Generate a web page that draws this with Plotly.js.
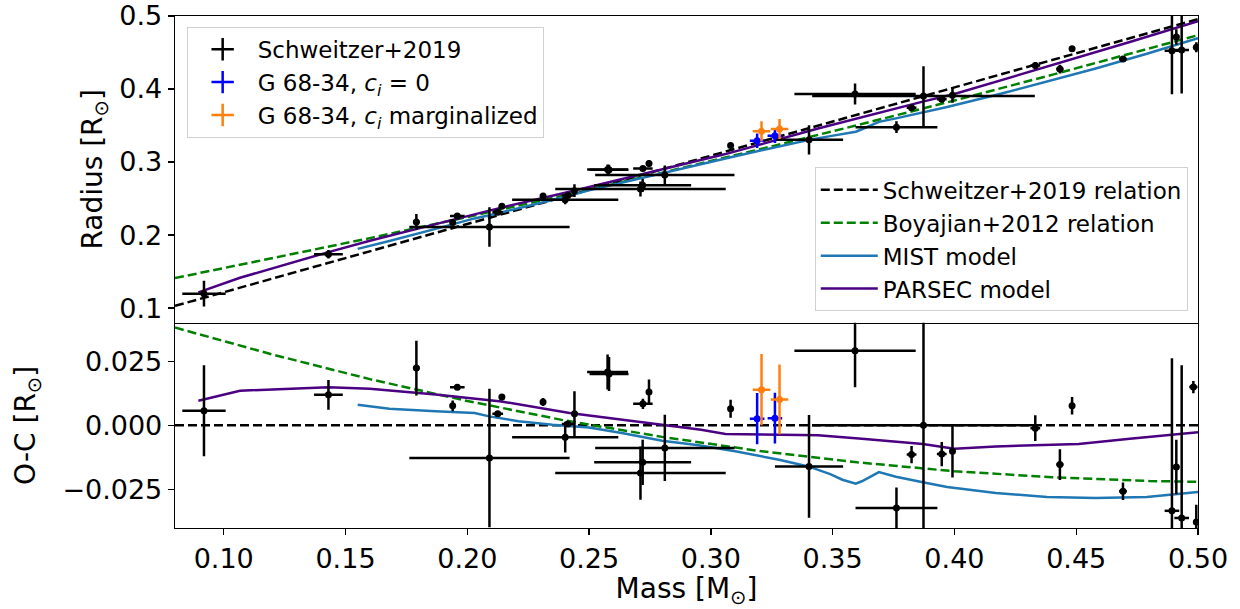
<!DOCTYPE html>
<html>
<head>
<meta charset="utf-8">
<script src="https://cdn.plot.ly/plotly-3.0.1.min.js"></script>
<style>
html, body { margin: 0; padding: 0; background: #fff; }
#chart { width: 1240px; height: 609px; }
</style>
</head>
<body>
<div id="chart"></div>
<script>
// ---- Schweitzer+2019 sample ----
const mass = [0.0919, 0.1430, 0.1791, 0.1959, 0.1940, 0.2091, 0.2142, 0.2125, 0.2311, 0.2440, 0.2413, 0.2402, 0.2576, 0.2582, 0.2746, 0.2721, 0.2720, 0.2711, 0.2811, 0.3081, 0.3403, 0.3592, 0.3873, 0.3762, 0.3824, 0.3948, 0.3992, 0.4332, 0.4483, 0.4433, 0.4692, 0.4893, 0.4911, 0.4933, 0.4981, 0.4993];
const massErr = [0.0089, 0.0059, 0.0014, 0.0030, 0.0007, 0.0329, 0.0007, 0.0022, 0.0007, 0.0007, 0.0025, 0.0218, 0.0084, 0.0080, 0.0008, 0.0040, 0.0199, 0.0350, 0.0286, 0.0010, 0.0140, 0.0249, 0.0457, 0.0168, 0.0020, 0.0020, 0.0010, 0.0020, 0.0008, 0.0015, 0.0016, 0.0030, 0.0012, 0.0030, 0.0017, 0.0010];
const radius = [0.1198, 0.1738, 0.2180, 0.2262, 0.2172, 0.2110, 0.2395, 0.2314, 0.2534, 0.2608, 0.2543, 0.2482, 0.2899, 0.2896, 0.2980, 0.2910, 0.2681, 0.2631, 0.2822, 0.3228, 0.3304, 0.3931, 0.3903, 0.3477, 0.3743, 0.3861, 0.3914, 0.4321, 0.4550, 0.4274, 0.4412, 0.4524, 0.4712, 0.4533, 0.5088, 0.4573];
const radiusErr = [0.0177, 0.0058, 0.0107, 0.0006, 0.0021, 0.0270, 0.0012, 0.0008, 0.0016, 0.0088, 0.0008, 0.0060, 0.0068, 0.0066, 0.0049, 0.0020, 0.0088, 0.0104, 0.0129, 0.0035, 0.0200, 0.0143, 0.0410, 0.0080, 0.0034, 0.0047, 0.0102, 0.0050, 0.0034, 0.0060, 0.0034, 0.0594, 0.0106, 0.0595, 0.0024, 0.0068];
const residual = [0.0057, 0.0119, 0.0223, 0.0148, 0.0076, -0.0127, 0.0110, 0.0045, 0.0091, 0.0045, 0.0005, -0.0046, 0.0208, 0.0200, 0.0130, 0.0084, -0.0144, -0.0186, -0.0088, 0.0065, -0.0160, 0.0291, 0.0000, -0.0322, -0.0114, -0.0112, -0.0101, -0.0011, 0.0076, -0.0153, -0.0257, -0.0333, -0.0162, -0.0361, 0.0149, -0.0377];

// ---- G 68-34, c_i = 0 ----
const g0Mass = [0.3190, 0.3263];
const g0MassErr = [0.0030, 0.0030];
const g0Radius = [0.3291, 0.3361];
const g0RadiusErr = [0.0100, 0.0099];
const g0Residual = [0.0026, 0.0028];

// ---- G 68-34, c_i marginalized ----
const gmMass = [0.3208, 0.3282];
const gmMassErr = [0.0036, 0.0036];
const gmRadius = [0.3420, 0.3452];
const gmRadiusErr = [0.0139, 0.0136];
const gmResidual = [0.0139, 0.0101];

// ---- Schweitzer+2019 relation ----
const relMass = [0.08, 0.50];
const relRadius = [0.1030, 0.4957];
const relResidual = [0.0, 0.0];

// ---- Boyajian+2012 relation ----
const boyMass = [0.08, 0.12, 0.16, 0.20, 0.24, 0.28, 0.32, 0.36, 0.40, 0.44, 0.48, 0.50];
const boyRadius = [0.1411, 0.1680, 0.1958, 0.2247, 0.2545, 0.2855, 0.3174, 0.3504, 0.3843, 0.4194, 0.4553, 0.4737];
const boyResidual = [0.0381, 0.0276, 0.0180, 0.0095, 0.0019, -0.0045, -0.0100, -0.0144, -0.0179, -0.0202, -0.0217, -0.0220];

// ---- MIST model ----
const mistMass = [0.155, 0.168, 0.187, 0.203, 0.209, 0.221, 0.235, 0.250, 0.264, 0.280, 0.295, 0.310, 0.328, 0.340, 0.349, 0.354, 0.3595, 0.362, 0.369, 0.376, 0.387, 0.397, 0.417, 0.438, 0.458, 0.479, 0.500];
const mistRadius = [0.1811, 0.1918, 0.2085, 0.2228, 0.2271, 0.2364, 0.2481, 0.2612, 0.2719, 0.2840, 0.2962, 0.3080, 0.3215, 0.3301, 0.3355, 0.3380, 0.3416, 0.3449, 0.3550, 0.3598, 0.3678, 0.3754, 0.3917, 0.4098, 0.4281, 0.4482, 0.4697];
const mistResidual = [0.0080, 0.0065, 0.0055, 0.0048, 0.0035, 0.0016, 0.0002, -0.0008, -0.0031, -0.0060, -0.0078, -0.0101, -0.0134, -0.0160, -0.0190, -0.0212, -0.0227, -0.0218, -0.0182, -0.0200, -0.0222, -0.0240, -0.0264, -0.0279, -0.0283, -0.0279, -0.0260];

// ---- PARSEC model ----
const parsecMass = [0.0896, 0.1067, 0.143, 0.160, 0.187, 0.214, 0.242, 0.269, 0.296, 0.306, 0.344, 0.362, 0.387, 0.400, 0.417, 0.451, 0.472, 0.500];
const parsecRadius = [0.1216, 0.1415, 0.1767, 0.1921, 0.2150, 0.2376, 0.2593, 0.2813, 0.3033, 0.3109, 0.3459, 0.3615, 0.3827, 0.3931, 0.4099, 0.4426, 0.4643, 0.4930];
const parsecResidual = [0.0096, 0.0135, 0.0148, 0.0143, 0.0120, 0.0093, 0.0048, 0.0016, -0.0017, -0.0034, -0.0039, -0.0052, -0.0073, -0.0091, -0.0082, -0.0073, -0.0052, -0.0027];

// ---- ticks ----
const xTicks = [0.10, 0.15, 0.20, 0.25, 0.30, 0.35, 0.40, 0.45, 0.50];
const yTicksTop = [0.1, 0.2, 0.3, 0.4, 0.5];
const yTicksBottom = [-0.025, 0.0, 0.025];

const FONT = 'DejaVu Sans, Arial, sans-serif';
const LW = 2.5;
const MISTC = '#1f77b4', PARC = '#4b0082', GREEN = '#008000';

function lineTrace(x, y, color, dash, name, legend, show, xa, ya, grp) {
  return {x: x, y: y, mode: 'lines', type: 'scatter', name: name,
    line: {color: color, width: LW, dash: dash},
    showlegend: show, legend: legend, legendgroup: grp, xaxis: xa, yaxis: ya, hoverinfo: 'skip'};
}
function errTrace(x, xe, y, ye, color, xa, ya) {
  return {x: x, y: y, mode: 'markers', type: 'scatter', showlegend: false,
    marker: {color: color, size: 7},
    error_x: {type: 'data', array: xe, visible: true, color: color, thickness: LW, width: 0},
    error_y: {type: 'data', array: ye, visible: true, color: color, thickness: LW, width: 0},
    xaxis: xa, yaxis: ya, hoverinfo: 'skip'};
}
function legendCross(color, name, grp) {
  return {x: [null], y: [null], mode: 'markers', type: 'scatter', name: name,
    marker: {symbol: 'cross-thin-open', size: 16, color: color, line: {color: color, width: LW}},
    showlegend: true, legend: 'legend', legendgroup: grp, xaxis: 'x2', yaxis: 'y'};
}

const data = [
  lineTrace(relMass, relRadius, '#000000', '9px,4px', 'Schweitzer+2019 relation', 'legend2', true, 'x2', 'y', 'g4'),
  lineTrace(boyMass, boyRadius, GREEN, '9px,4px', 'Boyajian+2012 relation', 'legend2', true, 'x2', 'y', 'g5'),
  lineTrace(mistMass, mistRadius, MISTC, 'solid', 'MIST model', 'legend2', true, 'x2', 'y', 'g6'),
  lineTrace(parsecMass, parsecRadius, PARC, 'solid', 'PARSEC model', 'legend2', true, 'x2', 'y', 'g7'),
  lineTrace(relMass, relResidual, '#000000', '9px,4px', 'rel', 'legend2', false, 'x', 'y2', 'g4'),
  lineTrace(boyMass, boyResidual, GREEN, '9px,4px', 'boy', 'legend2', false, 'x', 'y2', 'g5'),
  lineTrace(mistMass, mistResidual, MISTC, 'solid', 'mist', 'legend2', false, 'x', 'y2', 'g6'),
  lineTrace(parsecMass, parsecResidual, PARC, 'solid', 'parsec', 'legend2', false, 'x', 'y2', 'g7'),
  errTrace(mass, massErr, radius, radiusErr, '#000000', 'x2', 'y'),
  errTrace(g0Mass, g0MassErr, g0Radius, g0RadiusErr, '#0000ff', 'x2', 'y'),
  errTrace(gmMass, gmMassErr, gmRadius, gmRadiusErr, '#ff7f0e', 'x2', 'y'),
  errTrace(mass, massErr, residual, radiusErr, '#000000', 'x', 'y2'),
  errTrace(g0Mass, g0MassErr, g0Residual, g0RadiusErr, '#0000ff', 'x', 'y2'),
  errTrace(gmMass, gmMassErr, gmResidual, gmRadiusErr, '#ff7f0e', 'x', 'y2'),
  legendCross('#000000', 'Schweitzer+2019', 'g1'),
  legendCross('#0000ff', 'G 68-34, <i>c</i><sub><i>i</i></sub> = 0', 'g2'),
  legendCross('#ff7f0e', 'G 68-34, <i>c</i><sub><i>i</i></sub> marginalized', 'g3')
];

const axisCommon = {
  showline: true, linecolor: '#000', linewidth: 1.3, mirror: true,
  showgrid: false, zeroline: false,
  ticks: 'outside', ticklen: 6, tickwidth: 1.3, tickcolor: '#000',
  tickfont: {family: FONT, size: 27, color: '#000'}
};

const layout = {
  width: 1240, height: 609,
  margin: {l: 175, r: 42, t: 16, b: 81},
  paper_bgcolor: '#fff', plot_bgcolor: '#fff',
  font: {family: FONT, color: '#000'},
  xaxis: Object.assign({}, axisCommon, {
    domain: [0, 1], anchor: 'y2', range: [0.08, 0.50], mirror: false,
    tickvals: xTicks, tickformat: '.2f',
    title: {text: 'Mass [M<sub>⊙</sub>]', font: {family: FONT, size: 28, color: '#000'}, standoff: 2}
  }),
  xaxis2: Object.assign({}, axisCommon, {
    domain: [0, 1], anchor: 'y', matches: 'x', range: [0.08, 0.50],
    showticklabels: false, ticks: ''
  }),
  yaxis: Object.assign({}, axisCommon, {
    domain: [0.401, 1], anchor: 'x2', range: [0.08, 0.50],
    tickvals: yTicksTop, tickformat: '.1f',
    title: {text: 'Radius [R<sub>⊙</sub>]', font: {family: FONT, size: 28, color: '#000'}, standoff: 8}
  }),
  yaxis2: Object.assign({}, axisCommon, {
    domain: [0, 0.401], anchor: 'x', range: [-0.040, 0.040],
    tickvals: yTicksBottom, tickformat: '.3f',
    title: {text: 'O-C [R<sub>⊙</sub>]', font: {family: FONT, size: 28, color: '#000'}, standoff: 18}
  }),
  legend: {
    x: 0.0114, y: 0.979, xanchor: 'left', yanchor: 'top',
    bgcolor: 'rgba(255,255,255,0.8)', bordercolor: '#d0d0d0', borderwidth: 1,
    font: {family: FONT, size: 23, color: '#000'},
    tracegroupgap: 0, itemwidth: 60
  },
  legend2: {
    x: 0.990, y: 0.423, xanchor: 'right', yanchor: 'bottom',
    bgcolor: 'rgba(255,255,255,0.8)', bordercolor: '#d0d0d0', borderwidth: 1,
    font: {family: FONT, size: 23, color: '#000'},
    tracegroupgap: 0, itemwidth: 57
  },
  showlegend: true
};

Plotly.newPlot('chart', data, layout, {displayModeBar: false, staticPlot: true});
</script>
</body>
</html>
